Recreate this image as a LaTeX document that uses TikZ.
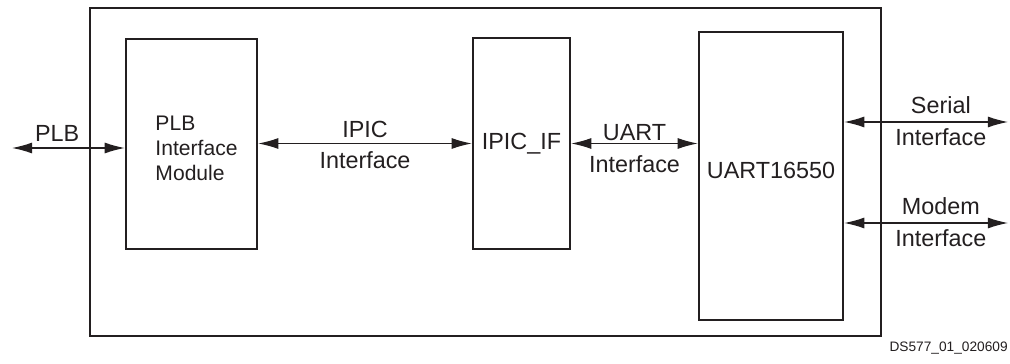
\documentclass[tikz,border=0pt]{standalone}
\usepackage{fontspec}
\setmainfont{Liberation Sans}
\definecolor{xlnxink}{HTML}{231F20}
\usepackage{tikz}
\usetikzlibrary{arrows.meta, positioning, calc}

\begin{document}
\begin{tikzpicture}[
        x=0.02cm, y=-0.02cm,
        every node/.style={font=\fontsize{13.3}{15.5}\selectfont, text=xlnxink},
        block/.style={
          rectangle, draw=xlnxink,
          line width=1.4pt, align=left,
          inner sep=0pt},
        link/.style={
          draw=xlnxink, line width=0.7pt,
          {Latex[length=11.5pt, width=6.3pt]}-{Latex[length=11.5pt, width=6.3pt]}},
        lbl/.style={inner sep=3.2pt}
      ]
        \useasboundingbox (0,0) rectangle (1010,364);
        \node[block, minimum width=15.82cm, minimum height=6.56cm] (core) at (485.5, 172) {};
        \node[block, minimum width=2.62cm, minimum height=4.2cm] (plbmod) at (191.5, 144) {};
        \node[align=left, inner sep=0pt, font=\fontsize{12}{14.2}\selectfont] (plbtxt)
          at ($(plbmod.center)+(5,4)$) {PLB\\Interface\\Module};
        \node[block, minimum width=1.94cm, minimum height=4.22cm] (ipicif) at (521.5, 143.5)
          {IPIC\_IF};
        \node[block, minimum width=2.88cm, minimum height=5.76cm] (uart) at (771, 176)
          {\raisebox{6pt}{UART16550}};
        \coordinate (plbend) at (12, 148);
        \coordinate (serialend) at (1008, 122);
        \coordinate (modemend) at (1008, 223);
        \draw[link] (plbend) -- (plbend -| plbmod.west)
          node[lbl, pos=0.4, above]{PLB};
        \draw[link] (plbmod.east |- ipicif) -- (ipicif.west)
          node[lbl, midway, above]{IPIC}
          node[lbl, midway, below=1pt]{Interface};
        \draw[link] (ipicif.east) -- (ipicif.east -| uart.west)
          node[lbl, midway, above=-2pt]{UART}
          node[lbl, midway, below=3.5pt]{Interface};
        \draw[link] (uart.east |- serialend) -- (serialend)
          node[lbl, pos=0.59, above=1pt]{Serial}
          node[lbl, pos=0.59, below]{Interface};
        \draw[link] (uart.east |- modemend) -- (modemend)
          node[lbl, pos=0.59, above=1pt]{Modem}
          node[lbl, pos=0.59, below]{Interface};
        \node[anchor=east, inner sep=0pt, font=\fontsize{7.8}{9}\selectfont] (figid) at (1008, 348)
          {DS577\_01\_020609};
      \end{tikzpicture}
\end{document}
